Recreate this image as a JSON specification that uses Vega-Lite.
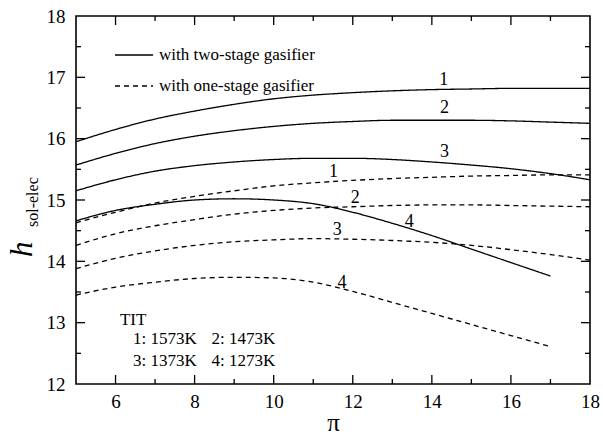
{
  "$schema": "https://vega.github.io/schema/vega-lite/v6.json",
  "autosize": {"type": "none"},
  "width": 514,
  "height": 368,
  "padding": {"left": 76, "top": 16, "right": 13, "bottom": 50},
  "background": "white",
  "config": {
    "view": {"stroke": "black", "strokeWidth": 1.6}
  },
  "layer": [
    {
      "data": {"values": [
        {"p": 5, "h": 15.95, "TIT": "1", "type": "with two-stage gasifier"},
        {"p": 6, "h": 16.15, "TIT": "1", "type": "with two-stage gasifier"},
        {"p": 7, "h": 16.32, "TIT": "1", "type": "with two-stage gasifier"},
        {"p": 8, "h": 16.45, "TIT": "1", "type": "with two-stage gasifier"},
        {"p": 9, "h": 16.56, "TIT": "1", "type": "with two-stage gasifier"},
        {"p": 10, "h": 16.65, "TIT": "1", "type": "with two-stage gasifier"},
        {"p": 11, "h": 16.71, "TIT": "1", "type": "with two-stage gasifier"},
        {"p": 12, "h": 16.75, "TIT": "1", "type": "with two-stage gasifier"},
        {"p": 13, "h": 16.78, "TIT": "1", "type": "with two-stage gasifier"},
        {"p": 14, "h": 16.80, "TIT": "1", "type": "with two-stage gasifier"},
        {"p": 15, "h": 16.81, "TIT": "1", "type": "with two-stage gasifier"},
        {"p": 16, "h": 16.82, "TIT": "1", "type": "with two-stage gasifier"},
        {"p": 17, "h": 16.82, "TIT": "1", "type": "with two-stage gasifier"},
        {"p": 18, "h": 16.82, "TIT": "1", "type": "with two-stage gasifier"},
        {"p": 5, "h": 15.57, "TIT": "2", "type": "with two-stage gasifier"},
        {"p": 6, "h": 15.76, "TIT": "2", "type": "with two-stage gasifier"},
        {"p": 7, "h": 15.92, "TIT": "2", "type": "with two-stage gasifier"},
        {"p": 8, "h": 16.04, "TIT": "2", "type": "with two-stage gasifier"},
        {"p": 9, "h": 16.13, "TIT": "2", "type": "with two-stage gasifier"},
        {"p": 10, "h": 16.20, "TIT": "2", "type": "with two-stage gasifier"},
        {"p": 11, "h": 16.25, "TIT": "2", "type": "with two-stage gasifier"},
        {"p": 12, "h": 16.28, "TIT": "2", "type": "with two-stage gasifier"},
        {"p": 13, "h": 16.30, "TIT": "2", "type": "with two-stage gasifier"},
        {"p": 14, "h": 16.30, "TIT": "2", "type": "with two-stage gasifier"},
        {"p": 15, "h": 16.30, "TIT": "2", "type": "with two-stage gasifier"},
        {"p": 16, "h": 16.29, "TIT": "2", "type": "with two-stage gasifier"},
        {"p": 17, "h": 16.27, "TIT": "2", "type": "with two-stage gasifier"},
        {"p": 18, "h": 16.25, "TIT": "2", "type": "with two-stage gasifier"},
        {"p": 5, "h": 15.15, "TIT": "3", "type": "with two-stage gasifier"},
        {"p": 6, "h": 15.33, "TIT": "3", "type": "with two-stage gasifier"},
        {"p": 7, "h": 15.47, "TIT": "3", "type": "with two-stage gasifier"},
        {"p": 8, "h": 15.56, "TIT": "3", "type": "with two-stage gasifier"},
        {"p": 9, "h": 15.62, "TIT": "3", "type": "with two-stage gasifier"},
        {"p": 10, "h": 15.66, "TIT": "3", "type": "with two-stage gasifier"},
        {"p": 11, "h": 15.68, "TIT": "3", "type": "with two-stage gasifier"},
        {"p": 12, "h": 15.68, "TIT": "3", "type": "with two-stage gasifier"},
        {"p": 13, "h": 15.66, "TIT": "3", "type": "with two-stage gasifier"},
        {"p": 14, "h": 15.62, "TIT": "3", "type": "with two-stage gasifier"},
        {"p": 15, "h": 15.57, "TIT": "3", "type": "with two-stage gasifier"},
        {"p": 16, "h": 15.51, "TIT": "3", "type": "with two-stage gasifier"},
        {"p": 17, "h": 15.43, "TIT": "3", "type": "with two-stage gasifier"},
        {"p": 18, "h": 15.33, "TIT": "3", "type": "with two-stage gasifier"},
        {"p": 5, "h": 14.66, "TIT": "4", "type": "with two-stage gasifier"},
        {"p": 6, "h": 14.83, "TIT": "4", "type": "with two-stage gasifier"},
        {"p": 7, "h": 14.93, "TIT": "4", "type": "with two-stage gasifier"},
        {"p": 8, "h": 15.00, "TIT": "4", "type": "with two-stage gasifier"},
        {"p": 9, "h": 15.02, "TIT": "4", "type": "with two-stage gasifier"},
        {"p": 10, "h": 15.00, "TIT": "4", "type": "with two-stage gasifier"},
        {"p": 11, "h": 14.94, "TIT": "4", "type": "with two-stage gasifier"},
        {"p": 12, "h": 14.80, "TIT": "4", "type": "with two-stage gasifier"},
        {"p": 13, "h": 14.62, "TIT": "4", "type": "with two-stage gasifier"},
        {"p": 14, "h": 14.42, "TIT": "4", "type": "with two-stage gasifier"},
        {"p": 15, "h": 14.20, "TIT": "4", "type": "with two-stage gasifier"},
        {"p": 16, "h": 13.98, "TIT": "4", "type": "with two-stage gasifier"},
        {"p": 17, "h": 13.76, "TIT": "4", "type": "with two-stage gasifier"},
        {"p": 5, "h": 14.63, "TIT": "1", "type": "with one-stage gasifier"},
        {"p": 6, "h": 14.80, "TIT": "1", "type": "with one-stage gasifier"},
        {"p": 7, "h": 14.95, "TIT": "1", "type": "with one-stage gasifier"},
        {"p": 8, "h": 15.06, "TIT": "1", "type": "with one-stage gasifier"},
        {"p": 9, "h": 15.15, "TIT": "1", "type": "with one-stage gasifier"},
        {"p": 10, "h": 15.23, "TIT": "1", "type": "with one-stage gasifier"},
        {"p": 11, "h": 15.28, "TIT": "1", "type": "with one-stage gasifier"},
        {"p": 12, "h": 15.32, "TIT": "1", "type": "with one-stage gasifier"},
        {"p": 13, "h": 15.35, "TIT": "1", "type": "with one-stage gasifier"},
        {"p": 14, "h": 15.37, "TIT": "1", "type": "with one-stage gasifier"},
        {"p": 15, "h": 15.39, "TIT": "1", "type": "with one-stage gasifier"},
        {"p": 16, "h": 15.40, "TIT": "1", "type": "with one-stage gasifier"},
        {"p": 17, "h": 15.41, "TIT": "1", "type": "with one-stage gasifier"},
        {"p": 18, "h": 15.41, "TIT": "1", "type": "with one-stage gasifier"},
        {"p": 5, "h": 14.26, "TIT": "2", "type": "with one-stage gasifier"},
        {"p": 6, "h": 14.45, "TIT": "2", "type": "with one-stage gasifier"},
        {"p": 7, "h": 14.58, "TIT": "2", "type": "with one-stage gasifier"},
        {"p": 8, "h": 14.68, "TIT": "2", "type": "with one-stage gasifier"},
        {"p": 9, "h": 14.77, "TIT": "2", "type": "with one-stage gasifier"},
        {"p": 10, "h": 14.83, "TIT": "2", "type": "with one-stage gasifier"},
        {"p": 11, "h": 14.87, "TIT": "2", "type": "with one-stage gasifier"},
        {"p": 12, "h": 14.89, "TIT": "2", "type": "with one-stage gasifier"},
        {"p": 13, "h": 14.91, "TIT": "2", "type": "with one-stage gasifier"},
        {"p": 14, "h": 14.92, "TIT": "2", "type": "with one-stage gasifier"},
        {"p": 15, "h": 14.92, "TIT": "2", "type": "with one-stage gasifier"},
        {"p": 16, "h": 14.91, "TIT": "2", "type": "with one-stage gasifier"},
        {"p": 17, "h": 14.90, "TIT": "2", "type": "with one-stage gasifier"},
        {"p": 18, "h": 14.89, "TIT": "2", "type": "with one-stage gasifier"},
        {"p": 5, "h": 13.88, "TIT": "3", "type": "with one-stage gasifier"},
        {"p": 6, "h": 14.05, "TIT": "3", "type": "with one-stage gasifier"},
        {"p": 7, "h": 14.17, "TIT": "3", "type": "with one-stage gasifier"},
        {"p": 8, "h": 14.26, "TIT": "3", "type": "with one-stage gasifier"},
        {"p": 9, "h": 14.32, "TIT": "3", "type": "with one-stage gasifier"},
        {"p": 10, "h": 14.35, "TIT": "3", "type": "with one-stage gasifier"},
        {"p": 11, "h": 14.37, "TIT": "3", "type": "with one-stage gasifier"},
        {"p": 12, "h": 14.36, "TIT": "3", "type": "with one-stage gasifier"},
        {"p": 13, "h": 14.34, "TIT": "3", "type": "with one-stage gasifier"},
        {"p": 14, "h": 14.31, "TIT": "3", "type": "with one-stage gasifier"},
        {"p": 15, "h": 14.26, "TIT": "3", "type": "with one-stage gasifier"},
        {"p": 16, "h": 14.19, "TIT": "3", "type": "with one-stage gasifier"},
        {"p": 17, "h": 14.11, "TIT": "3", "type": "with one-stage gasifier"},
        {"p": 18, "h": 14.02, "TIT": "3", "type": "with one-stage gasifier"},
        {"p": 5, "h": 13.45, "TIT": "4", "type": "with one-stage gasifier"},
        {"p": 6, "h": 13.58, "TIT": "4", "type": "with one-stage gasifier"},
        {"p": 7, "h": 13.66, "TIT": "4", "type": "with one-stage gasifier"},
        {"p": 8, "h": 13.72, "TIT": "4", "type": "with one-stage gasifier"},
        {"p": 9, "h": 13.74, "TIT": "4", "type": "with one-stage gasifier"},
        {"p": 10, "h": 13.73, "TIT": "4", "type": "with one-stage gasifier"},
        {"p": 11, "h": 13.66, "TIT": "4", "type": "with one-stage gasifier"},
        {"p": 12, "h": 13.51, "TIT": "4", "type": "with one-stage gasifier"},
        {"p": 13, "h": 13.33, "TIT": "4", "type": "with one-stage gasifier"},
        {"p": 14, "h": 13.15, "TIT": "4", "type": "with one-stage gasifier"},
        {"p": 15, "h": 12.97, "TIT": "4", "type": "with one-stage gasifier"},
        {"p": 16, "h": 12.79, "TIT": "4", "type": "with one-stage gasifier"},
        {"p": 17, "h": 12.61, "TIT": "4", "type": "with one-stage gasifier"}
      ]},
      "mark": {"type": "line", "interpolate": "monotone", "color": "black", "strokeWidth": 1.3},
      "encoding": {
        "x": {
          "field": "p", "type": "quantitative",
          "scale": {"domain": [5, 18], "nice": false, "zero": false},
          "axis": {
            "values": [6, 8, 10, 12, 14, 16, 18],
            "format": "d",
            "domain": false, "ticks": false, "tickSize": 0, "grid": false,
            "labelFont": "Liberation Serif", "labelFontSize": 19, "labelColor": "black",
            "labelPadding": 8, "labelFlush": false,
            "title": "π", "titleFont": "Liberation Serif", "titleFontSize": 25, "titleFontWeight": "normal",
            "titleColor": "black", "titlePadding": -1
          }
        },
        "y": {
          "field": "h", "type": "quantitative",
          "scale": {"domain": [12, 18], "nice": false, "zero": false},
          "axis": {
            "values": [12, 13, 14, 15, 16, 17, 18],
            "format": "d",
            "domain": false, "ticks": false, "tickSize": 0, "grid": false,
            "labelFont": "Liberation Serif", "labelFontSize": 19, "labelColor": "black",
            "labelPadding": 11, "labelFlush": false,
            "title": null
          }
        },
        "detail": {"field": "TIT"},
        "strokeDash": {
          "field": "type", "type": "nominal",
          "scale": {"domain": ["with two-stage gasifier", "with one-stage gasifier"], "range": [[1, 0], [5, 4]]},
          "legend": {
            "title": null, "orient": "none", "legendX": 38, "legendY": 19,
            "symbolType": "stroke", "symbolSize": 1444, "symbolStrokeColor": "black", "symbolStrokeWidth": 1.3,
            "labelFont": "Liberation Serif", "labelFontSize": 17, "labelColor": "black", "labelLimit": 400,
            "labelOffset": 5, "rowPadding": 3
          }
        }
      }
    },
    {
      "data": {"values": [
        {"p": 14.30, "h": 16.96, "lab": "1"},
        {"p": 14.32, "h": 16.50, "lab": "2"},
        {"p": 14.32, "h": 15.78, "lab": "3"},
        {"p": 13.43, "h": 14.64, "lab": "4"},
        {"p": 11.51, "h": 15.46, "lab": "1"},
        {"p": 12.06, "h": 15.04, "lab": "2"},
        {"p": 11.61, "h": 14.51, "lab": "3"},
        {"p": 11.73, "h": 13.65, "lab": "4"}
      ]},
      "mark": {"type": "text", "font": "Liberation Serif", "fontSize": 18, "color": "black", "baseline": "middle", "align": "center"},
      "encoding": {"x": {"field": "p", "type": "quantitative"}, "y": {"field": "h", "type": "quantitative"}, "text": {"field": "lab"}}
    },
    {
      "data": {"values": [
        {"p": 6.11, "h": 13.04, "lab": "TIT"},
        {"p": 6.44, "h": 12.73, "lab": "1: 1573K"},
        {"p": 8.43, "h": 12.73, "lab": "2: 1473K"},
        {"p": 6.44, "h": 12.375, "lab": "3: 1373K"},
        {"p": 8.43, "h": 12.375, "lab": "4: 1273K"}
      ]},
      "mark": {"type": "text", "font": "Liberation Serif", "fontSize": 17, "color": "black", "baseline": "middle", "align": "left"},
      "encoding": {"x": {"field": "p", "type": "quantitative"}, "y": {"field": "h", "type": "quantitative"}, "text": {"field": "lab"}}
    },
    {
      "data": {"values": [{"p": 3.886, "h": 14.07, "lab": "h"}]},
      "mark": {"type": "text", "font": "Liberation Serif", "fontSize": 31, "fontStyle": "italic", "color": "black", "baseline": "alphabetic", "align": "left", "angle": 270},
      "encoding": {"x": {"field": "p", "type": "quantitative"}, "y": {"field": "h", "type": "quantitative"}, "text": {"field": "lab"}}
    },
    {
      "data": {"values": [{"p": 4.04, "h": 14.56, "lab": "sol-elec"}]},
      "mark": {"type": "text", "font": "Liberation Serif", "fontSize": 16, "color": "black", "baseline": "alphabetic", "align": "left", "angle": 270},
      "encoding": {"x": {"field": "p", "type": "quantitative"}, "y": {"field": "h", "type": "quantitative"}, "text": {"field": "lab"}}
    },
    {
      "data": {"values": [
        {"p": 6, "h": 12, "side": "bottom", "kind": "major"}, {"p": 7, "h": 12, "side": "bottom", "kind": "minor"},
        {"p": 8, "h": 12, "side": "bottom", "kind": "major"}, {"p": 9, "h": 12, "side": "bottom", "kind": "minor"},
        {"p": 10, "h": 12, "side": "bottom", "kind": "major"}, {"p": 11, "h": 12, "side": "bottom", "kind": "minor"},
        {"p": 12, "h": 12, "side": "bottom", "kind": "major"}, {"p": 13, "h": 12, "side": "bottom", "kind": "minor"},
        {"p": 14, "h": 12, "side": "bottom", "kind": "major"}, {"p": 15, "h": 12, "side": "bottom", "kind": "minor"},
        {"p": 16, "h": 12, "side": "bottom", "kind": "major"}, {"p": 17, "h": 12, "side": "bottom", "kind": "minor"},
        {"p": 6, "h": 18, "side": "top", "kind": "major"}, {"p": 7, "h": 18, "side": "top", "kind": "minor"},
        {"p": 8, "h": 18, "side": "top", "kind": "major"}, {"p": 9, "h": 18, "side": "top", "kind": "minor"},
        {"p": 10, "h": 18, "side": "top", "kind": "major"}, {"p": 11, "h": 18, "side": "top", "kind": "minor"},
        {"p": 12, "h": 18, "side": "top", "kind": "major"}, {"p": 13, "h": 18, "side": "top", "kind": "minor"},
        {"p": 14, "h": 18, "side": "top", "kind": "major"}, {"p": 15, "h": 18, "side": "top", "kind": "minor"},
        {"p": 16, "h": 18, "side": "top", "kind": "major"}, {"p": 17, "h": 18, "side": "top", "kind": "minor"},
        {"p": 5, "h": 12.5, "side": "left", "kind": "minor"}, {"p": 5, "h": 13, "side": "left", "kind": "major"},
        {"p": 5, "h": 13.5, "side": "left", "kind": "minor"}, {"p": 5, "h": 14, "side": "left", "kind": "major"},
        {"p": 5, "h": 14.5, "side": "left", "kind": "minor"}, {"p": 5, "h": 15, "side": "left", "kind": "major"},
        {"p": 5, "h": 15.5, "side": "left", "kind": "minor"}, {"p": 5, "h": 16, "side": "left", "kind": "major"},
        {"p": 5, "h": 16.5, "side": "left", "kind": "minor"}, {"p": 5, "h": 17, "side": "left", "kind": "major"},
        {"p": 5, "h": 17.5, "side": "left", "kind": "minor"},
        {"p": 18, "h": 12.5, "side": "right", "kind": "minor"}, {"p": 18, "h": 13, "side": "right", "kind": "major"},
        {"p": 18, "h": 13.5, "side": "right", "kind": "minor"}, {"p": 18, "h": 14, "side": "right", "kind": "major"},
        {"p": 18, "h": 14.5, "side": "right", "kind": "minor"}, {"p": 18, "h": 15, "side": "right", "kind": "major"},
        {"p": 18, "h": 15.5, "side": "right", "kind": "minor"}, {"p": 18, "h": 16, "side": "right", "kind": "major"},
        {"p": 18, "h": 16.5, "side": "right", "kind": "minor"}, {"p": 18, "h": 17, "side": "right", "kind": "major"},
        {"p": 18, "h": 17.5, "side": "right", "kind": "minor"}
      ]},
      "mark": {"type": "point", "filled": false, "color": "black", "strokeWidth": 1.3, "opacity": 1},
      "encoding": {
        "x": {"field": "p", "type": "quantitative"},
        "y": {"field": "h", "type": "quantitative"},
        "shape": {
          "field": "side", "type": "nominal",
          "scale": {"domain": ["bottom", "top", "left", "right"], "range": ["M0,0L0,-1", "M0,0L0,1", "M0,0L1,0", "M0,0L-1,0"]},
          "legend": null
        },
        "size": {
          "field": "kind", "type": "nominal",
          "scale": {"domain": ["major", "minor"], "range": [324, 100]},
          "legend": null
        }
      }
    }
  ]
}
